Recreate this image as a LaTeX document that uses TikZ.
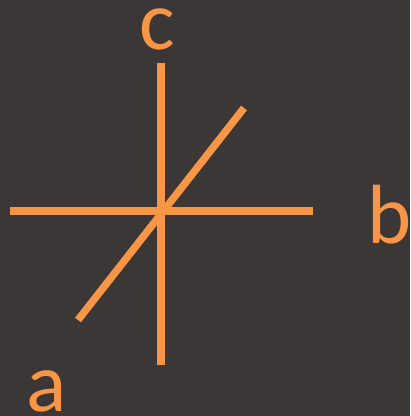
\documentclass[tikz,border=0pt]{standalone}
\usepackage{fontspec}
\setmainfont{Carlito}
\definecolor{bgdark}{HTML}{3B3737}
\definecolor{axisorange}{HTML}{F79646}
\tikzset{
  axisline/.style={axisorange, line width=5.6pt},
  axislabel/.style={text=axisorange, inner sep=0pt, font=\fontsize{63}{63}\selectfont}
}

\begin{document}
\begin{tikzpicture}[x=0.75pt, y=-0.75pt]
  \fill[bgdark] (0,0) rectangle (410,416);
  \useasboundingbox (0,0) rectangle (410,416);
  % ends of the three axes, centre at (161,211)
  \coordinate (O) at (161,211);
  \coordinate (Ctop) at (161,63);
  \coordinate (Cbot) at (161,365);
  \coordinate (Bleft) at (10,211);
  \coordinate (Bright) at (313,211);
  \coordinate (Alow) at (78,320);
  \coordinate (Ahigh) at (244,108);
  \draw[axisline] (Ctop) -- (Cbot);
  \draw[axisline] (Bleft) -- (Bright);
  \draw[axisline] (Alow) -- (Ahigh);
  \node[axislabel] (c) at (157.5,29) {c};
  \node[axislabel] (b) at (390,214.5) {b};
  \node[axislabel] (a) at (47,391) {a};
\end{tikzpicture}
\end{document}
